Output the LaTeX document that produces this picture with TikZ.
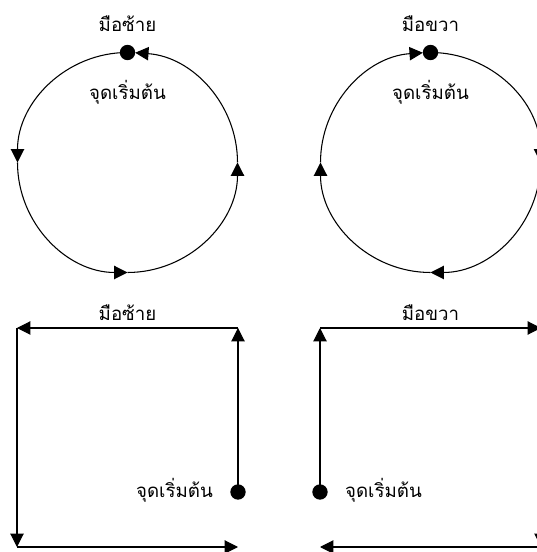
\documentclass[tikz,border=0pt]{standalone}
\usepackage{fontspec}
\newfontfamily\thaifont[Script=Thai]{Loma}
\usetikzlibrary{arrows.meta,positioning}
\begin{document}
\begin{tikzpicture}[x=0.75pt,y=0.75pt,font=\thaifont\fontsize{14}{16}\selectfont, line join=round,
	tri/.style={-{Triangle[length=10pt,width=10pt]}}, line width=0.8pt,
	dot/.style={circle,fill,inner sep=0pt,minimum size=11.5pt},
	lbl/.style={anchor=base}] %ทิศทางการหมุน
	\useasboundingbox (0,0) rectangle (536,552);
	% วงกลม
	\coordinate (lc) at (127.5,389.5);
	\coordinate (rc) at (430.5,389.5);
	\node[dot] (lstart) at (127.5,499.5) {};
	\node[dot] (rstart) at (430.5,499.5) {};
	\node[lbl] (lhand) at (127.5,520) {มือซ้าย};
	\node[lbl] (rhand) at (430.5,520) {มือขวา};
	\node[lbl] (lbegin) at (127.5,452) {จุดเริ่มต้น};
	\node[lbl] (rbegin) at (430.5,452) {จุดเริ่มต้น};
	\draw[tri] (lstart.center) arc[start angle=90,end angle=180,radius=110];
	\draw[tri] ([shift={(180:110)}]lc) arc[start angle=180,end angle=270,radius=110];
	\draw[tri] ([shift={(270:110)}]lc) arc[start angle=270,end angle=360,radius=110];
	\draw[tri] ([shift={(0:110)}]lc) arc[start angle=0,end angle=86,radius=110];
	\draw[tri] (rstart.center) arc[start angle=90,end angle=0,radius=110];
	\draw[tri] ([shift={(0:110)}]rc) arc[start angle=0,end angle=-90,radius=110];
	\draw[tri] ([shift={(270:110)}]rc) arc[start angle=270,end angle=180,radius=110];
	\draw[tri] ([shift={(180:110)}]rc) arc[start angle=180,end angle=94,radius=110];
	% สี่เหลี่ยม
	\coordinate (la) at (238,224);
	\coordinate (lb) at (17,224);
	\coordinate (lcc) at (17,5);
	\coordinate (ld) at (238,5);
	\coordinate (ra) at (320,224);
	\coordinate (rb) at (541,224);
	\coordinate (rcc) at (541,5);
	\coordinate (rd) at (320,5);
	\node[dot] (lsq) at (238,60) {};
	\node[dot] (rsq) at (320,60) {};
	\node[left=9pt of lsq,anchor=base east,yshift=-4pt] (lsqtxt) {จุดเริ่มต้น};
	\node[right=9pt of rsq,anchor=base west,yshift=-4pt] (rsqtxt) {จุดเริ่มต้น};
	\node[lbl] (lsqhand) at (127.5,231) {มือซ้าย};
	\node[lbl] (rsqhand) at (430.5,231) {มือขวา};
	\draw[tri] (lsq.center) -- (la);
	\draw[tri] (la) -- (lb);
	\draw[tri] (lb) -- (lcc);
	\draw[tri] (lcc) -- (ld);
	\draw[tri] (rsq.center) -- (ra);
	\draw[tri] (ra) -- (rb);
	\draw[tri] (rb) -- (rcc);
	\draw[tri] (rcc) -- (rd);
\end{tikzpicture}
\end{document}
